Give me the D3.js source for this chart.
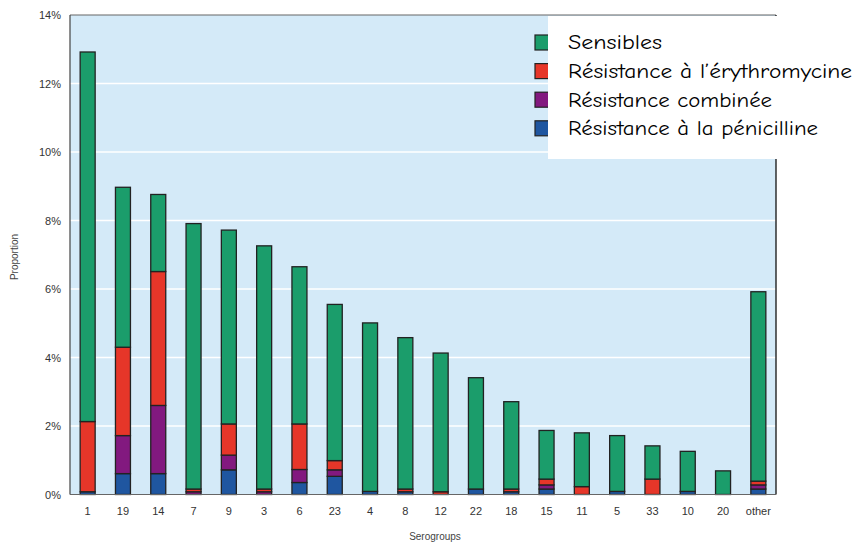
<!DOCTYPE html>
<html><head><meta charset="utf-8">
<script src="https://cdn.jsdelivr.net/npm/d3@7"></script>
<style>body{margin:0;background:#fff;} svg{display:block;}</style>
</head><body>
<svg id="c" width="857" height="544"></svg>
<script>
const categories = ["1","19","14","7","9","3","6","23","4","8","12","22","18","15","11","5","33","10","20","other"];
// values in % per category (stack order bottom→top: penicillin, combined, erythromycin, sensitive)
const penicilline = [0.08,0.61,0.61,0,0.72,0,0.35,0.53,0.09,0.08,0,0.16,0.08,0.16,0,0.09,0,0.09,0,0.16];
const combinee    = [0,1.11,1.99,0.08,0.43,0.08,0.38,0.19,0,0,0,0,0,0.12,0,0,0,0,0,0.12];
const erythro     = [2.05,2.58,3.91,0.08,0.91,0.08,1.33,0.27,0,0.08,0.08,0,0.08,0.17,0.23,0,0.45,0,0,0.11];
const sensibles   = [10.79,4.67,2.25,7.75,5.66,7.10,4.59,4.56,4.92,4.42,4.05,3.25,2.55,1.42,1.57,1.63,0.97,1.17,0.69,5.53];
const seriesNames = ["Sensibles","Résistance à l’érythromycine","Résistance combinée","Résistance à la pénicilline"];
const yTicks = [0,2,4,6,8,10,12,14];

const colors = {pen:"#1f56a0", comb:"#82197f", ery:"#e63629", sens:"#1b9d6b"};
const svg = d3.select("#c");
const m = {l:70, r:776, t:15, b:494.5};

const x = d3.scaleBand().domain(categories).range([m.l, m.r]).paddingInner(0.6).paddingOuter(0.3);
const y = d3.scaleLinear().domain([0,14]).range([m.b, m.t]);

svg.append("rect").attr("x",m.l).attr("y",m.t).attr("width",m.r-m.l).attr("height",m.b-m.t).attr("fill","#d4eaf8");

svg.append("g").selectAll("line").data(yTicks.slice(1,-1)).join("line")
  .attr("x1",m.l).attr("x2",m.r).attr("y1",d=>y(d)).attr("y2",d=>y(d))
  .attr("stroke","#ffffff").attr("stroke-width",1.5);

const rows = categories.map((c,i)=>({cat:c, pen:penicilline[i], comb:combinee[i], ery:erythro[i], sens:sensibles[i]}));
const keys = ["pen","comb","ery","sens"];
const stacked = d3.stack().keys(keys)(rows);
const bw = 15;
svg.append("g").selectAll("g").data(stacked).join("g")
  .attr("fill",d=>colors[d.key])
  .selectAll("rect").data(d=>d.filter(p=>p[1]-p[0]>0)).join("rect")
  .attr("x",d=>x(d.data.cat)+x.bandwidth()/2-bw/2)
  .attr("width",bw)
  .attr("y",d=>y(d[1]))
  .attr("height",d=>y(d[0])-y(d[1]))
  .attr("stroke","#222").attr("stroke-width",1.3);

// frame
svg.append("line").attr("x1",m.l).attr("x2",m.r).attr("y1",m.t).attr("y2",m.t).attr("stroke","#666").attr("stroke-width",1.2);
svg.append("line").attr("x1",m.r).attr("x2",m.r).attr("y1",m.t).attr("y2",m.b).attr("stroke","#222").attr("stroke-width",1.4);
svg.append("line").attr("x1",m.l).attr("x2",m.l).attr("y1",m.t).attr("y2",m.b).attr("stroke","#444").attr("stroke-width",1.2);
svg.append("line").attr("x1",m.l).attr("x2",m.r).attr("y1",m.b).attr("y2",m.b).attr("stroke","#666").attr("stroke-width",1.2);

// y axis labels
const yAxis = d3.axisLeft(y).tickValues(yTicks).tickFormat(d=>d+"%").tickSize(0).tickPadding(9);
const ya = svg.append("g").attr("transform",`translate(${m.l},0)`).call(yAxis);
ya.select(".domain").remove();
ya.selectAll("text").attr("font-family","Liberation Sans, Arial, sans-serif").attr("font-size",11).attr("fill","#333");

const xAxis = d3.axisBottom(x).tickSize(0).tickPadding(13);
const xa = svg.append("g").attr("transform",`translate(0,${m.b})`).call(xAxis);
xa.select(".domain").remove();
xa.selectAll("text").attr("font-family","Liberation Sans, Arial, sans-serif").attr("font-size",11).attr("fill","#333");

svg.append("text").attr("x",435).attr("y",540).attr("text-anchor","middle")
  .attr("font-family","Liberation Sans, Arial, sans-serif").attr("font-size",10).attr("fill","#444").text("Serogroups");
svg.append("text").attr("transform","translate(18,257) rotate(-90)").attr("text-anchor","middle")
  .attr("font-family","Liberation Sans, Arial, sans-serif").attr("font-size",10).attr("fill","#444").text("Proportion");

// legend
const legKeys = ["sens","ery","comb","pen"];
const legWidths = [94,284,204,250];
svg.append("g").selectAll("rect").data(legKeys).join("rect")
  .attr("x",535).attr("y",(d,i)=>35+i*28.6).attr("width",16).attr("height",15)
  .attr("fill",d=>colors[d]).attr("stroke","#222").attr("stroke-width",1.2);
svg.append("rect").attr("x",548).attr("y",16).attr("width",309).attr("height",143).attr("fill","#fff");
svg.append("g").selectAll("text").data(seriesNames).join("text")
  .attr("x",568).attr("y",(d,i)=>49+i*28.8)
  .attr("font-family","'Comic Sans MS','Comic Neue','DejaVu Sans',sans-serif").attr("font-size",20).attr("fill","#000")
  .attr("textLength",(d,i)=>legWidths[i]).attr("lengthAdjust","spacingAndGlyphs")
  .text(d=>d);
</script>
</body></html>
